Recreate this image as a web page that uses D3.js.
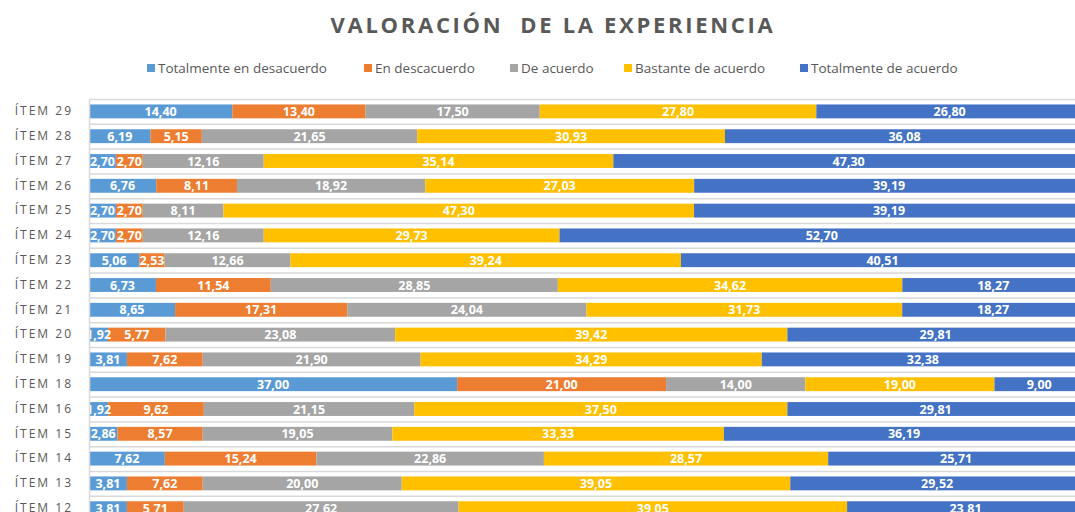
<!DOCTYPE html>
<html>
<head>
<meta charset="utf-8">
<script src="https://cdn.jsdelivr.net/npm/d3@7"></script>
<style>
  body { margin: 0; background: #fff; overflow: hidden; }
  svg { display: block; font-family: "Open Sans", sans-serif; }
</style>
</head>
<body>
<div id="chart"></div>
<script>
// items top to bottom (chart continues below the visible area)
var items = ["ÍTEM 29", "ÍTEM 28", "ÍTEM 27", "ÍTEM 26", "ÍTEM 25", "ÍTEM 24", "ÍTEM 23",
  "ÍTEM 22", "ÍTEM 21", "ÍTEM 20", "ÍTEM 19", "ÍTEM 18", "ÍTEM 16", "ÍTEM 15",
  "ÍTEM 14", "ÍTEM 13", "ÍTEM 12"];

var seriesNames = ["Totalmente en desacuerdo", "En descacuerdo", "De acuerdo",
  "Bastante de acuerdo", "Totalmente de acuerdo"];

var totDesacuerdo = [14.40, 6.19, 2.70, 6.76, 2.70, 2.70, 5.06, 6.73, 8.65, 1.92, 3.81, 37.00, 1.92, 2.86, 7.62, 3.81, 3.81];
var enDesacuerdo  = [13.40, 5.15, 2.70, 8.11, 2.70, 2.70, 2.53, 11.54, 17.31, 5.77, 7.62, 21.00, 9.62, 8.57, 15.24, 7.62, 5.71];
var deAcuerdo     = [17.50, 21.65, 12.16, 18.92, 8.11, 12.16, 12.66, 28.85, 24.04, 23.08, 21.90, 14.00, 21.15, 19.05, 22.86, 20.00, 27.62];
var bastante      = [27.80, 30.93, 35.14, 27.03, 47.30, 29.73, 39.24, 34.62, 31.73, 39.42, 34.29, 19.00, 37.50, 33.33, 28.57, 39.05, 39.05];
var totAcuerdo    = [26.80, 36.08, 47.30, 39.19, 39.19, 52.70, 40.51, 18.27, 18.27, 29.81, 32.38, 9.00, 29.81, 36.19, 25.71, 29.52, 23.81];

var colors = ["#5b9bd5", "#ed7d31", "#a5a5a5", "#ffc000", "#4472c4"];

// build table for d3.stack
var columns = [totDesacuerdo, enDesacuerdo, deAcuerdo, bastante, totAcuerdo];
var data = items.map(function(item, i) {
  var row = { item: item };
  seriesNames.forEach(function(s, j) { row[s] = columns[j][i]; });
  return row;
});

var dimensions = {
  width: 1075,
  height: 512,
  margin: { top: 99, left: 89 }
};
var step = 24.8;

var svg = d3.select("#chart")
  .append("svg")
  .attr("width", dimensions.width)
  .attr("height", dimensions.height);

var xScale = d3.scaleLinear()
  .domain([0, 100])
  .range([dimensions.margin.left, dimensions.margin.left + 995]);

var yScale = d3.scaleBand()
  .domain(items)
  .range([dimensions.margin.top, dimensions.margin.top + step * items.length])
  .paddingInner(0.44)
  .paddingOuter(0.22);

var colorScale = d3.scaleOrdinal().domain(seriesNames).range(colors);

// title
svg.append("text")
  .attr("x", 553)
  .attr("y", 33)
  .attr("text-anchor", "middle")
  .style("font-size", "22px")
  .style("font-weight", "bold")
  .style("letter-spacing", "2.7px")
  .style("fill", "#595959")
  .style("white-space", "pre")
  .text("VALORACIÓN  DE LA EXPERIENCIA");

// legend
var legendX = [147, 364, 510, 624, 800];
var legend = svg.append("g").attr("class", "legend");
seriesNames.forEach(function(s, i) {
  var g = legend.append("g").attr("transform", "translate(" + legendX[i] + ",64)");
  g.append("rect").attr("width", 8).attr("height", 8).attr("fill", colorScale(s));
  g.append("text")
    .attr("x", 11)
    .attr("y", 9)
    .style("font-size", "13.5px")
    .style("fill", "#595959")
    .text(s);
});

// gridlines at band boundaries
var gridY = d3.range(items.length + 1).map(function(i) { return dimensions.margin.top + i * step; });
svg.append("g")
  .selectAll("line")
  .data(gridY)
  .enter()
  .append("line")
  .attr("x1", xScale(0))
  .attr("x2", dimensions.width)
  .attr("y1", d => d + 0.5)
  .attr("y2", d => d + 0.5)
  .attr("stroke", "#d9d9d9")
  .attr("stroke-width", 1.5);

var stacked = d3.stack().keys(seriesNames)(data);

svg.append("clipPath").attr("id", "plotClip")
  .append("rect")
  .attr("x", xScale(0))
  .attr("y", 0)
  .attr("width", dimensions.width)
  .attr("height", dimensions.height);

var layers = svg.append("g")
  .attr("clip-path", "url(#plotClip)")
  .selectAll("g.layer")
  .data(stacked)
  .enter()
  .append("g")
  .attr("class", "layer")
  .attr("fill", d => colorScale(d.key));

layers.selectAll("rect")
  .data(d => d)
  .enter()
  .append("rect")
  .attr("x", d => xScale(d[0]))
  .attr("y", d => yScale(d.data.item))
  .attr("width", d => xScale(d[1]) - xScale(d[0]))
  .attr("height", yScale.bandwidth());

// data labels
var fmt = function(v) { return d3.format(".2f")(v).replace(".", ","); };
var labels = svg.append("g").attr("clip-path", "url(#plotClip)");
stacked.forEach(function(layer) {
  labels.selectAll(null)
    .data(layer)
    .enter()
    .append("text")
    .attr("x", d => (xScale(d[0]) + xScale(d[1])) / 2)
    .attr("y", d => yScale(d.data.item) + yScale.bandwidth() / 2)
    .attr("dy", "0.36em")
    .attr("text-anchor", "middle")
    .style("font-size", "12.5px")
    .style("font-weight", "bold")
    .style("fill", "#ffffff")
    .text(d => fmt(d[1] - d[0]));
});

// y axis
var yAxis = svg.append("g")
  .attr("transform", "translate(" + xScale(0) + ",0)")
  .call(d3.axisLeft(yScale).tickSize(0).tickPadding(16));
yAxis.select(".domain").attr("stroke", "#d9d9d9").attr("stroke-width", 1.5);
yAxis.selectAll("text")
  .style("font-family", "'Open Sans', sans-serif")
  .style("font-size", "12px")
  .style("letter-spacing", "2px")
  .style("fill", "#595959");
</script>
</body>
</html>
